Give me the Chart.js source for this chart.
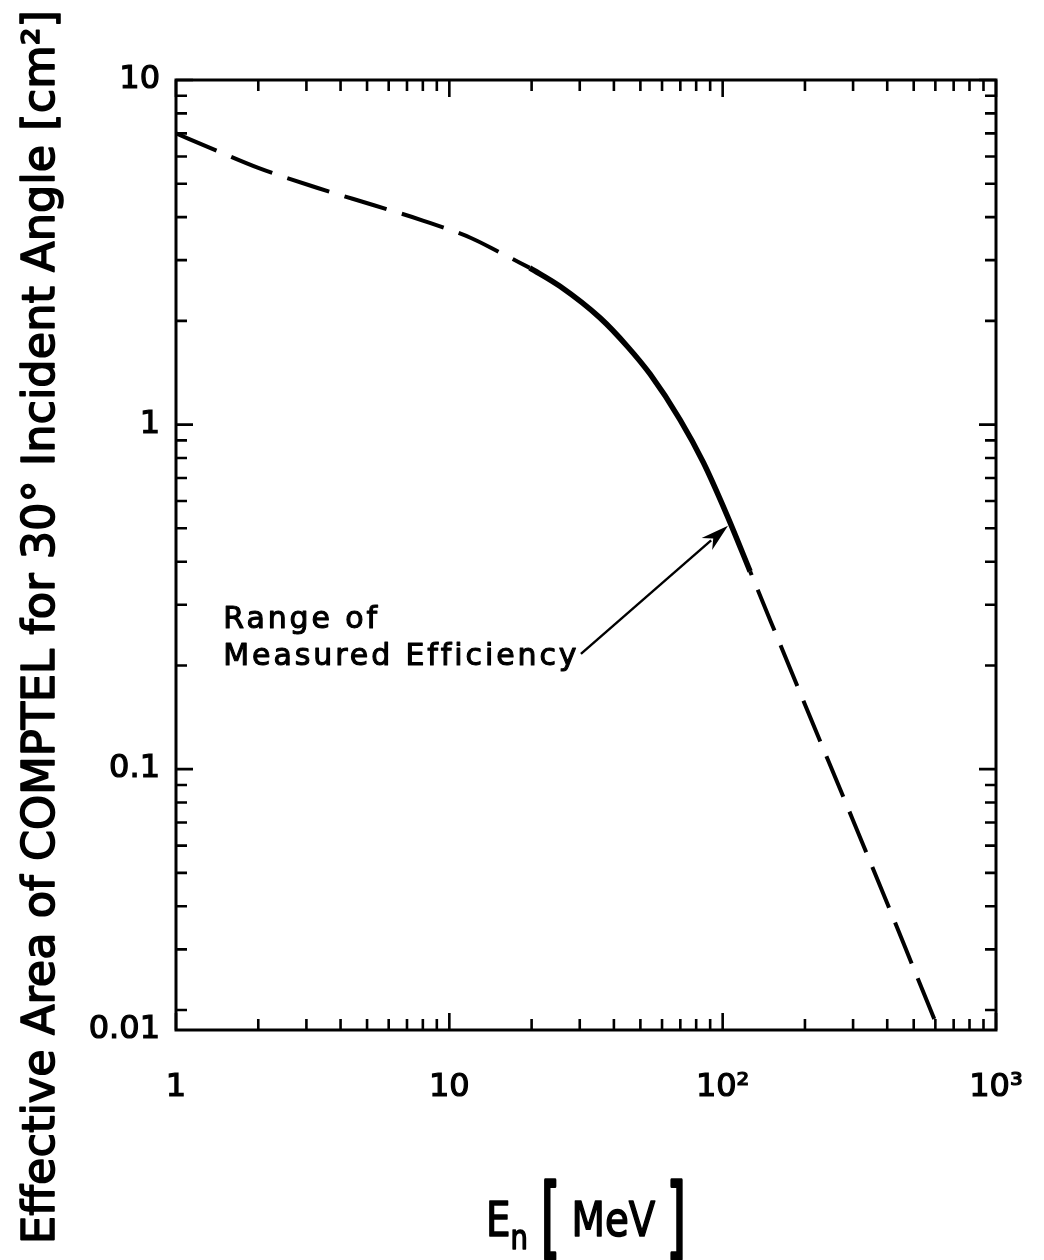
<!DOCTYPE html>
<html>
<head>
<meta charset="utf-8">
<script src="https://cdn.jsdelivr.net/npm/chart.js@4.4.1/dist/chart.umd.min.js"></script>
<style>
  html, body { margin: 0; padding: 0; background: #fff; }
  #wrap { width: 1044px; height: 1260px; }
</style>
</head>
<body>
<div id="wrap"><canvas id="chart" width="1044" height="1260"></canvas></div>
<script>
// neutron energy [MeV] vs effective area [cm^2]
const lowE  = [1, 1.4, 2, 3.3, 5.3, 8, 12, 15.3, 19.7];
const lowA  = [7.0, 6.25, 5.56, 4.86, 4.33, 3.91, 3.48, 3.16, 2.85];
const measE = [19.7, 25.4, 35.6, 45, 54.3, 69.8, 85, 103.5, 126];
const measA = [2.85, 2.52, 2.04, 1.68, 1.40, 1.034, 0.776, 0.548, 0.375];
const highE = [126, 150, 200, 300, 400, 500, 600];
const highA = [0.375, 0.268, 0.154, 0.071, 0.0408, 0.0264, 0.0185];

const xMajor = [1, 10, 100, 1000];
const xLabels = ['1', '10', '10²', '10³'];
const yMajor = [0.1, 1, 10];
const yLabels = ['0.1', '1', '10'];
const minorSteps = [2, 3, 4, 5, 6, 7, 8, 9];
// the printed axis stops short of 0.01 but is labelled 0.01 at its foot
const yBottom = 0.0175;
const yBottomLabel = '0.01';

const xTitle = ['E', 'n', 'MeV'];
const yTitle = 'Effective Area of COMPTEL for 30° Incident Angle [cm²]';
const noteLines = ['Range of', 'Measured Efficiency'];
const noteAt = { x: 1.49, y: 0.2009 };
const arrowFrom = { x: 30.3, y: 0.216 };
const arrowTo = { x: 104.6, y: 0.509 };

const xTicks = [];
xMajor.forEach((m, i) => {
  xTicks.push(m);
  if (i < xMajor.length - 1) minorSteps.forEach(s => xTicks.push(m * s));
});
const yTicks = [yBottom];
[0.01, 0.1, 1].forEach(m => minorSteps.forEach(s => { if (m * s > yBottom) yTicks.push(+(m * s).toPrecision(3)); }));
yMajor.forEach(v => yTicks.push(v));
yTicks.sort((a, b) => a - b);

const pts = (xs, ys) => xs.map((x, i) => ({ x: x, y: ys[i] }));
const FONT = '"DejaVu Sans", sans-serif';

// fill and lightly stroke, to get the medium weight of the lettering
function heavyText(ctx, t, x, y, lw) {
  ctx.lineWidth = lw;
  ctx.strokeText(t, x, y);
  ctx.fillText(t, x, y);
}

const frame = {
  id: 'frame',
  afterDraw(chart) {
    const { ctx, chartArea: a, scales: { x, y } } = chart;
    ctx.save();
    ctx.strokeStyle = '#000';
    ctx.lineWidth = 3;
    ctx.lineCap = 'butt';
    ctx.strokeRect(a.left, a.top, a.right - a.left, a.bottom - a.top);
    ctx.lineWidth = 2.6;
    x.ticks.forEach(t => {
      const px = x.getPixelForValue(t.value);
      const len = xMajor.includes(t.value) ? 17 : 11;
      ctx.beginPath();
      ctx.moveTo(px, a.bottom); ctx.lineTo(px, a.bottom - len);
      ctx.moveTo(px, a.top); ctx.lineTo(px, a.top + len);
      ctx.stroke();
    });
    y.ticks.forEach(t => {
      if (t.value === yBottom) return;
      const py = y.getPixelForValue(t.value);
      const len = yMajor.includes(t.value) ? 17 : 11;
      ctx.beginPath();
      ctx.moveTo(a.left, py); ctx.lineTo(a.left + len, py);
      ctx.moveTo(a.right, py); ctx.lineTo(a.right - len, py);
      ctx.stroke();
    });

    // annotation text, spread to the width of the printed lettering
    ctx.fillStyle = '#000';
    ctx.lineJoin = 'round';
    ctx.font = '30px ' + FONT;
    ctx.textAlign = 'left';
    ctx.textBaseline = 'alphabetic';
    const nx = x.getPixelForValue(noteAt.x);
    const ny = y.getPixelForValue(noteAt.y);
    const nw = ctx.measureText(noteLines[1]).width;
    const sp = Math.max(0, (352 - nw) / (noteLines[1].length - 1));
    ctx.letterSpacing = sp.toFixed(1) + 'px';
    heavyText(ctx, noteLines[0], nx, ny - 37, 1.1);
    heavyText(ctx, noteLines[1], nx, ny, 1.1);
    ctx.letterSpacing = '0px';

    const x0 = x.getPixelForValue(arrowFrom.x), y0 = y.getPixelForValue(arrowFrom.y);
    const x1 = x.getPixelForValue(arrowTo.x), y1 = y.getPixelForValue(arrowTo.y);
    const ang = Math.atan2(y1 - y0, x1 - x0);
    const c = Math.cos(ang), s = Math.sin(ang);
    const hl = 28, hw = 8;
    ctx.lineWidth = 2.4;
    ctx.beginPath();
    ctx.moveTo(x0, y0);
    ctx.lineTo(x1 - hl * 0.8 * c, y1 - hl * 0.8 * s);
    ctx.stroke();
    ctx.beginPath();
    ctx.moveTo(x1, y1);
    ctx.lineTo(x1 - hl * c + hw * s, y1 - hl * s - hw * c);
    ctx.lineTo(x1 - hl * 0.7 * c, y1 - hl * 0.7 * s);
    ctx.lineTo(x1 - hl * c - hw * s, y1 - hl * s + hw * c);
    ctx.closePath();
    ctx.fill();

    // y title, squeezed to the length of the printed one
    ctx.save();
    ctx.translate(42, 627);
    ctx.rotate(-Math.PI / 2);
    ctx.font = '45px ' + FONT;
    ctx.textAlign = 'center';
    ctx.textBaseline = 'middle';
    const w = ctx.measureText(yTitle).width;
    ctx.scale(1234 / w, 1);
    heavyText(ctx, yTitle, 0, 0, 1.6);
    ctx.restore();

    // x title: E_n [ MeV ]
    const parts = [
      { t: xTitle[0], s: 48, dy: 0, gap: 0, sy: 1 },
      { t: xTitle[1], s: 34, dy: 13, gap: 16, sy: 1 },
      { t: '[', s: 62, dy: 12, gap: 14, sy: 1.45 },
      { t: xTitle[2], s: 48, dy: 0, gap: 14, sy: 1 },
      { t: ']', s: 62, dy: 12, gap: 0, sy: 1.45 },
    ];
    ctx.textAlign = 'left';
    ctx.textBaseline = 'alphabetic';
    let total = 0;
    parts.forEach(p => {
      ctx.font = p.s + 'px ' + FONT;
      p.w = ctx.measureText(p.t).width; total += p.w + p.gap;
    });
    const target = 200;
    ctx.save();
    ctx.translate((a.left + a.right) / 2 - target / 2, 1236);
    ctx.scale(target / total, 1);
    let cx = 0;
    parts.forEach(p => {
      ctx.font = p.s + 'px ' + FONT;
      ctx.save();
      ctx.translate(cx, p.dy);
      ctx.scale(1, p.sy);
      heavyText(ctx, p.t, 0, 0, p.sy > 1 ? 0 : 1.6);
      ctx.restore();
      cx += p.w + p.gap;
    });
    ctx.restore();
    ctx.restore();
  }
};

const lineBase = {
  borderColor: '#000',
  pointRadius: 0,
  fill: false,
  cubicInterpolationMode: 'monotone',
  borderCapStyle: 'butt',
};

new Chart(document.getElementById('chart'), {
  type: 'line',
  data: {
    datasets: [
      Object.assign({ data: pts(lowE, lowA), borderWidth: 4, borderDash: [44, 16] }, lineBase),
      Object.assign({ data: pts(measE, measA), borderWidth: 5.5 }, lineBase),
      Object.assign({ data: pts(highE, highA), borderWidth: 4, borderDash: [44, 16], borderDashOffset: -20 }, lineBase),
    ]
  },
  options: {
    responsive: false,
    animation: false,
    layout: { padding: { top: 80, right: 48, left: 0, bottom: 0 } },
    plugins: { legend: { display: false }, tooltip: { enabled: false } },
    scales: {
      x: {
        type: 'logarithmic',
        min: 1,
        max: 1000,
        grid: { display: false },
        border: { display: false },
        afterBuildTicks: s => { s.ticks = xTicks.map(v => ({ value: v })); },
        afterFit: s => { s.height = 230; s.paddingLeft = 0; s.paddingRight = 0; },
        ticks: {
          autoSkip: false,
          maxRotation: 0,
          padding: 30,
          color: '#000',
          textStrokeColor: '#000',
          textStrokeWidth: 1.2,
          font: { family: FONT, size: 32 },
          callback: v => { const i = xMajor.indexOf(v); return i < 0 ? '' : xLabels[i]; }
        }
      },
      y: {
        type: 'logarithmic',
        min: yBottom,
        max: 10,
        grid: { display: false },
        border: { display: false },
        afterBuildTicks: s => { s.ticks = yTicks.map(v => ({ value: v })); },
        afterFit: s => { s.width = 176; s.paddingTop = 0; s.paddingBottom = 0; },
        ticks: {
          autoSkip: false,
          padding: 8,
          color: '#000',
          textStrokeColor: '#000',
          textStrokeWidth: 1.2,
          font: { family: FONT, size: 32 },
          callback: v => {
            if (v === yBottom) return yBottomLabel;
            const i = yMajor.indexOf(v); return i < 0 ? '' : yLabels[i];
          }
        }
      }
    }
  },
  plugins: [frame]
});
</script>
</body>
</html>
